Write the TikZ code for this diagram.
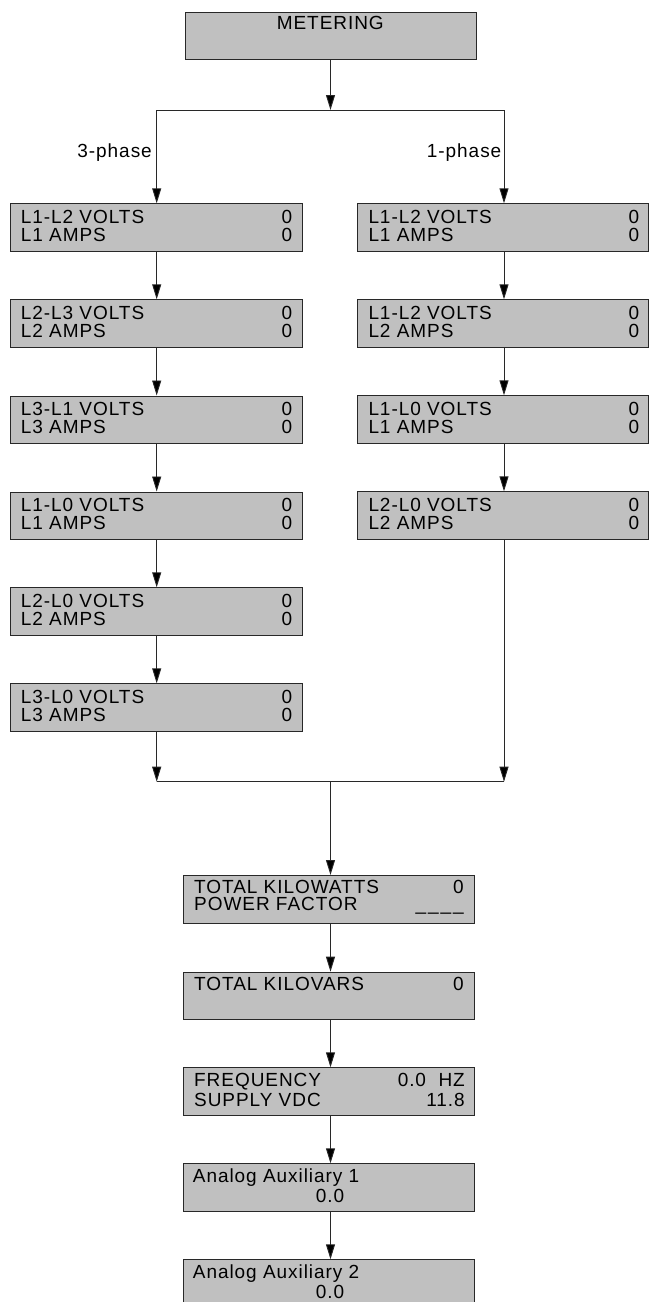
\documentclass[tikz,border=0pt]{standalone}
\usepackage{fontspec}
\setmainfont{Liberation Sans}[LetterSpace=5]
\usetikzlibrary{arrows.meta}
\definecolor{boxgray}{RGB}{192,192,192}
\definecolor{edge}{RGB}{40,40,40}
\tikzset{
  box/.style={draw=edge, fill=boxgray, line width=0.9pt, rectangle, minimum width=291.5pt, minimum height=47.5pt, inner sep=0pt, anchor=north west},
  txt/.style={inner sep=0pt, font=\fontsize{19}{23}\selectfont, text=black},
  lt/.style={txt, anchor=base west},
  rt/.style={txt, anchor=base east},
  ct/.style={txt, anchor=base},
  conn/.style={draw=edge, line width=0.9pt},
  arr/.style={conn, -{Triangle[length=15pt,width=9pt,fill=black]}},
}
\begin{document}
\begin{tikzpicture}[x=1pt,y=-1pt]
\useasboundingbox (0,0) rectangle (649,1302);

% top
\node[box] (met) at (184.7,11.7) {};
\node[ct] (met-t) at (330.3,29.3) {METERING};

% left column
\node[box, minimum width=292pt] (a1) at (10,203.3) {};
\node[box, minimum width=292pt] (a2) at (10,299.3) {};
\node[box, minimum width=292pt] (a3) at (10,395.5) {};
\node[box, minimum width=292pt] (a4) at (10,491.5) {};
\node[box, minimum width=292pt] (a5) at (10,587.3) {};
\node[box, minimum width=292pt] (a6) at (10,683.3) {};

\node[lt] (a1-l1) at (20.7,223.0) {L1-L2 VOLTS};  \node[rt] (a1-r1) at (292.3,223.0) {0};
\node[lt] (a1-l2) at (20.7,241.5) {L1 AMPS};      \node[rt] (a1-r2) at (292.3,241.5) {0};
\node[lt] (a2-l1) at (20.7,319.0) {L2-L3 VOLTS};  \node[rt] (a2-r1) at (292.3,319.0) {0};
\node[lt] (a2-l2) at (20.7,337.5) {L2 AMPS};      \node[rt] (a2-r2) at (292.3,337.5) {0};
\node[lt] (a3-l1) at (20.7,415.2) {L3-L1 VOLTS};  \node[rt] (a3-r1) at (292.3,415.2) {0};
\node[lt] (a3-l2) at (20.7,433.7) {L3 AMPS};      \node[rt] (a3-r2) at (292.3,433.7) {0};
\node[lt] (a4-l1) at (20.7,511.2) {L1-L0 VOLTS};  \node[rt] (a4-r1) at (292.3,511.2) {0};
\node[lt] (a4-l2) at (20.7,529.7) {L1 AMPS};      \node[rt] (a4-r2) at (292.3,529.7) {0};
\node[lt] (a5-l1) at (20.7,607.0) {L2-L0 VOLTS};  \node[rt] (a5-r1) at (292.3,607.0) {0};
\node[lt] (a5-l2) at (20.7,625.5) {L2 AMPS};      \node[rt] (a5-r2) at (292.3,625.5) {0};
\node[lt] (a6-l1) at (20.7,703.0) {L3-L0 VOLTS};  \node[rt] (a6-r1) at (292.3,703.0) {0};
\node[lt] (a6-l2) at (20.7,721.5) {L3 AMPS};      \node[rt] (a6-r2) at (292.3,721.5) {0};

% right column
\node[box, minimum width=291pt] (b1) at (357.3,203.3) {};
\node[box, minimum width=291pt] (b2) at (357.3,299.3) {};
\node[box, minimum width=291pt] (b3) at (357.3,395.3) {};
\node[box, minimum width=291pt] (b4) at (357.3,491.3) {};

\node[lt] (b1-l1) at (368.3,223.0) {L1-L2 VOLTS};  \node[rt] (b1-r1) at (639.5,223.0) {0};
\node[lt] (b1-l2) at (368.3,241.5) {L1 AMPS};      \node[rt] (b1-r2) at (639.5,241.5) {0};
\node[lt] (b2-l1) at (368.3,319.0) {L1-L2 VOLTS};  \node[rt] (b2-r1) at (639.5,319.0) {0};
\node[lt] (b2-l2) at (368.3,337.5) {L2 AMPS};      \node[rt] (b2-r2) at (639.5,337.5) {0};
\node[lt] (b3-l1) at (368.3,415.0) {L1-L0 VOLTS};  \node[rt] (b3-r1) at (639.5,415.0) {0};
\node[lt] (b3-l2) at (368.3,433.5) {L1 AMPS};      \node[rt] (b3-r2) at (639.5,433.5) {0};
\node[lt] (b4-l1) at (368.3,511.0) {L2-L0 VOLTS};  \node[rt] (b4-r1) at (639.5,511.0) {0};
\node[lt] (b4-l2) at (368.3,529.5) {L2 AMPS};      \node[rt] (b4-r2) at (639.5,529.5) {0};

% bottom column
\node[box] (c1) at (182.7,875) {};
\node[box] (c2) at (182.7,971.7) {};
\node[box] (c3) at (182.7,1067.3) {};
\node[box] (c4) at (182.7,1163.3) {};
\node[box] (c5) at (182.7,1259.3) {};

\node[lt] (c1-l1) at (194,893) {TOTAL KILOWATTS}; \node[rt] (c1-r1) at (464,893) {0};
\node[lt] (c1-l2) at (194,910) {POWER FACTOR};
\node[rt] (c1-r2) at (464,910) {\_\kern2pt\_\kern2pt\_\kern2pt\_};
\node[lt] (c2-l1) at (194,990.5) {TOTAL KILOVARS}; \node[rt] (c2-r1) at (464,990.5) {0};
\node[lt] (c3-l1) at (194,1086) {FREQUENCY}; \node[rt] (c3-r1) at (465,1086) {0.0\ \ HZ};
\node[lt] (c3-l2) at (194,1106) {SUPPLY VDC}; \node[rt] (c3-r2) at (465,1106) {11.8};
\node[lt] (c4-l1) at (192.7,1182) {Analog Auxiliary 1};
\node[ct] (c4-l2) at (330,1202) {0.0};
\node[lt] (c5-l1) at (192.7,1278.5) {Analog Auxiliary 2};
\node[ct] (c5-l2) at (330,1298) {0.0};

% split
\coordinate (split) at (330.5,110);
\coordinate (splitL) at (156.7,110);
\coordinate (splitR) at (504,110);
\draw[arr] (met.south -| split) -- (split);
\draw[conn] (splitL) -- (splitR);
\draw[arr] (splitL) -- (a1.north -| splitL);
\draw[arr] (splitR) -- (b1.north -| splitR);
\node[rt] (ph3) at (152,157.3) {3-phase};
\node[rt] (ph1) at (501.5,157.3) {1-phase};

% left chain
\draw[arr] (a1.south -| splitL) -- (a2.north -| splitL);
\draw[arr] (a2.south -| splitL) -- (a3.north -| splitL);
\draw[arr] (a3.south -| splitL) -- (a4.north -| splitL);
\draw[arr] (a4.south -| splitL) -- (a5.north -| splitL);
\draw[arr] (a5.south -| splitL) -- (a6.north -| splitL);

% right chain
\draw[arr] (b1.south -| splitR) -- (b2.north -| splitR);
\draw[arr] (b2.south -| splitR) -- (b3.north -| splitR);
\draw[arr] (b3.south -| splitR) -- (b4.north -| splitR);

% merge
\coordinate (merge) at (330.5,781.7);
\coordinate (mergeL) at (156.7,781.7);
\coordinate (mergeR) at (504,781.7);
\draw[arr] (a6.south -| mergeL) -- (mergeL);
\draw[arr] (b4.south -| mergeR) -- (mergeR);
\draw[conn] (mergeL) -- (mergeR);
\draw[arr] (merge) -- (c1.north -| merge);

% bottom chain
\draw[arr] (c1.south -| merge) -- (c2.north -| merge);
\draw[arr] (c2.south -| merge) -- (c3.north -| merge);
\draw[arr] (c3.south -| merge) -- (c4.north -| merge);
\draw[arr] (c4.south -| merge) -- (c5.north -| merge);
\end{tikzpicture}
\end{document}
